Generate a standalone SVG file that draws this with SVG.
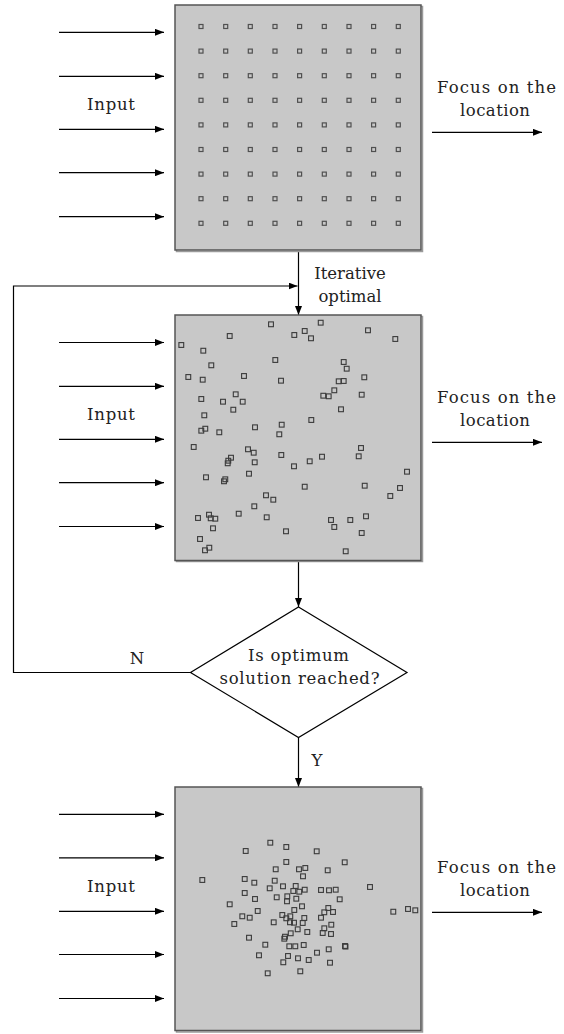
<svg xmlns="http://www.w3.org/2000/svg" xmlns:xlink="http://www.w3.org/1999/xlink" width="564" height="1034" viewBox="0 0 564 1034">
<style>
.box{fill:#c8c8c8;stroke:#555;stroke-width:1.5}
.shadow{fill:none;stroke:#9a9a9a;stroke-width:1.5}
.sq1{fill:none;stroke:#505050;stroke-width:1.2}
.sq{fill:none;stroke:#3a3a3a;stroke-width:1.1}
.ln{fill:none;stroke:#000;stroke-width:1.2}
.dia{fill:#fff;stroke:#000;stroke-width:1.2}
.t{font-family:"DejaVu Serif","Liberation Serif",serif;font-size:16.5px;fill:#222;text-anchor:middle}
</style>
<defs>
<marker id="ah" markerUnits="userSpaceOnUse" markerWidth="9" markerHeight="7" refX="9" refY="3.5" orient="auto">
<path d="M0,0 L9,3.5 L0,7 z" fill="#000"/>
</marker>
<rect id="s1" class="sq1" x="-2" y="-2" width="4" height="4"/>
<rect id="s" class="sq" x="-2.4" y="-2.4" width="4.8" height="4.8"/>
</defs>

<g id="connectors">
<path class="ln" marker-end="url(#ah)" d="M59,32.3H164"/>
<path class="ln" marker-end="url(#ah)" d="M59,76.3H164"/>
<path class="ln" marker-end="url(#ah)" d="M59,129.3H164"/>
<path class="ln" marker-end="url(#ah)" d="M59,172.7H164"/>
<path class="ln" marker-end="url(#ah)" d="M59,216.7H164"/>
<path class="ln" marker-end="url(#ah)" d="M59,342.5H164"/>
<path class="ln" marker-end="url(#ah)" d="M59,386.3H164"/>
<path class="ln" marker-end="url(#ah)" d="M59,439.3H164"/>
<path class="ln" marker-end="url(#ah)" d="M59,482.7H164"/>
<path class="ln" marker-end="url(#ah)" d="M59,526.5H164"/>
<path class="ln" marker-end="url(#ah)" d="M59,814.3H164"/>
<path class="ln" marker-end="url(#ah)" d="M59,857.8H164"/>
<path class="ln" marker-end="url(#ah)" d="M59,911.3H164"/>
<path class="ln" marker-end="url(#ah)" d="M59,954.5H164"/>
<path class="ln" marker-end="url(#ah)" d="M59,998.5H164"/>
<path class="ln" marker-end="url(#ah)" d="M432,132.3H542"/>
<path class="ln" marker-end="url(#ah)" d="M432,442.3H542"/>
<path class="ln" marker-end="url(#ah)" d="M432,912.3H542"/>
<path class="ln" marker-end="url(#ah)" d="M298.5,251V315"/>
<path class="ln" marker-end="url(#ah)" d="M298.5,561.5V607"/>
<path class="ln" marker-end="url(#ah)" d="M298.5,737.5V787"/>
<path class="ln" marker-end="url(#ah)" d="M190.5,672.5H13.5V286H297.5"/>
</g>

<g id="node-grid">
<rect class="shadow" x="176.5" y="6.5" width="246" height="245"/>
<rect class="box" x="175" y="5" width="246" height="245"/>
<g id="grid-points">
<use href="#s1" x="201" y="26.5"/><use href="#s1" x="225.7" y="26.5"/><use href="#s1" x="250.3" y="26.5"/><use href="#s1" x="275" y="26.5"/><use href="#s1" x="299.6" y="26.5"/><use href="#s1" x="324.3" y="26.5"/><use href="#s1" x="349" y="26.5"/><use href="#s1" x="373.6" y="26.5"/><use href="#s1" x="398.3" y="26.5"/>
<use href="#s1" x="201" y="51.1"/><use href="#s1" x="225.7" y="51.1"/><use href="#s1" x="250.3" y="51.1"/><use href="#s1" x="275" y="51.1"/><use href="#s1" x="299.6" y="51.1"/><use href="#s1" x="324.3" y="51.1"/><use href="#s1" x="349" y="51.1"/><use href="#s1" x="373.6" y="51.1"/><use href="#s1" x="398.3" y="51.1"/>
<use href="#s1" x="201" y="75.7"/><use href="#s1" x="225.7" y="75.7"/><use href="#s1" x="250.3" y="75.7"/><use href="#s1" x="275" y="75.7"/><use href="#s1" x="299.6" y="75.7"/><use href="#s1" x="324.3" y="75.7"/><use href="#s1" x="349" y="75.7"/><use href="#s1" x="373.6" y="75.7"/><use href="#s1" x="398.3" y="75.7"/>
<use href="#s1" x="201" y="100.3"/><use href="#s1" x="225.7" y="100.3"/><use href="#s1" x="250.3" y="100.3"/><use href="#s1" x="275" y="100.3"/><use href="#s1" x="299.6" y="100.3"/><use href="#s1" x="324.3" y="100.3"/><use href="#s1" x="349" y="100.3"/><use href="#s1" x="373.6" y="100.3"/><use href="#s1" x="398.3" y="100.3"/>
<use href="#s1" x="201" y="124.9"/><use href="#s1" x="225.7" y="124.9"/><use href="#s1" x="250.3" y="124.9"/><use href="#s1" x="275" y="124.9"/><use href="#s1" x="299.6" y="124.9"/><use href="#s1" x="324.3" y="124.9"/><use href="#s1" x="349" y="124.9"/><use href="#s1" x="373.6" y="124.9"/><use href="#s1" x="398.3" y="124.9"/>
<use href="#s1" x="201" y="149.5"/><use href="#s1" x="225.7" y="149.5"/><use href="#s1" x="250.3" y="149.5"/><use href="#s1" x="275" y="149.5"/><use href="#s1" x="299.6" y="149.5"/><use href="#s1" x="324.3" y="149.5"/><use href="#s1" x="349" y="149.5"/><use href="#s1" x="373.6" y="149.5"/><use href="#s1" x="398.3" y="149.5"/>
<use href="#s1" x="201" y="174.1"/><use href="#s1" x="225.7" y="174.1"/><use href="#s1" x="250.3" y="174.1"/><use href="#s1" x="275" y="174.1"/><use href="#s1" x="299.6" y="174.1"/><use href="#s1" x="324.3" y="174.1"/><use href="#s1" x="349" y="174.1"/><use href="#s1" x="373.6" y="174.1"/><use href="#s1" x="398.3" y="174.1"/>
<use href="#s1" x="201" y="198.7"/><use href="#s1" x="225.7" y="198.7"/><use href="#s1" x="250.3" y="198.7"/><use href="#s1" x="275" y="198.7"/><use href="#s1" x="299.6" y="198.7"/><use href="#s1" x="324.3" y="198.7"/><use href="#s1" x="349" y="198.7"/><use href="#s1" x="373.6" y="198.7"/><use href="#s1" x="398.3" y="198.7"/>
<use href="#s1" x="201" y="223.3"/><use href="#s1" x="225.7" y="223.3"/><use href="#s1" x="250.3" y="223.3"/><use href="#s1" x="275" y="223.3"/><use href="#s1" x="299.6" y="223.3"/><use href="#s1" x="324.3" y="223.3"/><use href="#s1" x="349" y="223.3"/><use href="#s1" x="373.6" y="223.3"/><use href="#s1" x="398.3" y="223.3"/>
</g>
</g>

<g id="node-scatter">
<rect class="shadow" x="176.5" y="316.5" width="246" height="245"/>
<rect class="box" x="175" y="315" width="246" height="245.5"/>
<g id="scatter-points">
<use href="#s" x="271" y="324.3"/><use href="#s" x="320.7" y="322.7"/><use href="#s" x="229.7" y="336"/><use href="#s" x="294.3" y="335"/><use href="#s" x="304.7" y="331"/><use href="#s" x="311" y="338.3"/><use href="#s" x="368" y="330.3"/><use href="#s" x="395.3" y="339"/><use href="#s" x="181.3" y="345"/><use href="#s" x="203.3" y="350.7"/>
<use href="#s" x="275.3" y="360"/><use href="#s" x="343.7" y="362"/><use href="#s" x="346.7" y="368.7"/><use href="#s" x="211.3" y="365.3"/><use href="#s" x="188.3" y="377"/><use href="#s" x="202.7" y="379.7"/><use href="#s" x="244" y="376"/><use href="#s" x="281" y="380.7"/><use href="#s" x="338.7" y="381.3"/><use href="#s" x="343.7" y="381"/>
<use href="#s" x="364.3" y="377.3"/><use href="#s" x="235.7" y="394.3"/><use href="#s" x="201.3" y="399"/><use href="#s" x="223" y="401.7"/><use href="#s" x="242.7" y="401.7"/><use href="#s" x="323.3" y="395.7"/><use href="#s" x="328.7" y="396.3"/><use href="#s" x="334.3" y="390.3"/><use href="#s" x="361.7" y="394.7"/><use href="#s" x="233.3" y="409.7"/>
<use href="#s" x="341" y="409.3"/><use href="#s" x="204.3" y="415.3"/><use href="#s" x="311.3" y="420"/><use href="#s" x="201.3" y="430.7"/><use href="#s" x="205.3" y="428.7"/><use href="#s" x="219.3" y="432.3"/><use href="#s" x="255" y="427.3"/><use href="#s" x="281.7" y="424.7"/><use href="#s" x="279.3" y="434.3"/><use href="#s" x="193.7" y="447"/>
<use href="#s" x="248" y="449.3"/><use href="#s" x="253.7" y="452.7"/><use href="#s" x="231" y="457.7"/><use href="#s" x="228.3" y="460.7"/><use href="#s" x="227.7" y="463.3"/><use href="#s" x="254.7" y="462.3"/><use href="#s" x="281.3" y="455"/><use href="#s" x="294" y="466.3"/><use href="#s" x="309.7" y="461.3"/><use href="#s" x="322" y="456.7"/>
<use href="#s" x="361" y="448"/><use href="#s" x="358.7" y="456.3"/><use href="#s" x="407" y="471.7"/><use href="#s" x="206" y="477.3"/><use href="#s" x="225.3" y="479.3"/><use href="#s" x="224" y="481.3"/><use href="#s" x="249" y="473.7"/><use href="#s" x="304.7" y="486.7"/><use href="#s" x="364.7" y="485.7"/><use href="#s" x="400" y="488"/>
<use href="#s" x="390.3" y="496"/><use href="#s" x="266" y="495.3"/><use href="#s" x="273.3" y="499.7"/><use href="#s" x="254.3" y="506.3"/><use href="#s" x="238.7" y="513.7"/><use href="#s" x="198" y="518"/><use href="#s" x="209" y="514.7"/><use href="#s" x="210.7" y="518.3"/><use href="#s" x="215.3" y="518.7"/><use href="#s" x="266.7" y="517.3"/>
<use href="#s" x="213" y="528.3"/><use href="#s" x="331" y="520"/><use href="#s" x="334.3" y="527"/><use href="#s" x="350.3" y="520"/><use href="#s" x="366" y="516.3"/><use href="#s" x="361.7" y="533"/><use href="#s" x="286" y="531.3"/><use href="#s" x="200" y="539"/><use href="#s" x="209.3" y="547.7"/><use href="#s" x="205" y="550.3"/>
<use href="#s" x="345.7" y="551.3"/>
</g>
</g>

<g id="node-converged">
<rect class="shadow" x="176.5" y="788.5" width="246" height="243.5"/>
<rect class="box" x="175" y="787" width="246" height="243.5"/>
<g id="converged-points">
<use href="#s" x="270.3" y="842.7"/><use href="#s" x="286.3" y="847"/><use href="#s" x="245.7" y="851"/><use href="#s" x="316.7" y="851.3"/><use href="#s" x="286.3" y="862"/><use href="#s" x="344.7" y="862.3"/><use href="#s" x="275.7" y="869.3"/><use href="#s" x="299" y="869.3"/><use href="#s" x="305.3" y="868"/><use href="#s" x="327.7" y="870.3"/>
<use href="#s" x="303" y="876.3"/><use href="#s" x="202.3" y="880"/><use href="#s" x="244.7" y="879"/><use href="#s" x="254.3" y="882.7"/><use href="#s" x="274.7" y="880.7"/><use href="#s" x="269.7" y="888.3"/><use href="#s" x="283" y="886.3"/><use href="#s" x="295.7" y="886"/><use href="#s" x="293.3" y="891"/><use href="#s" x="299.3" y="891.7"/>
<use href="#s" x="304.7" y="889.7"/><use href="#s" x="321" y="890"/><use href="#s" x="329" y="890.3"/><use href="#s" x="335.7" y="889.7"/><use href="#s" x="370" y="887"/><use href="#s" x="244.7" y="893"/><use href="#s" x="255" y="899"/><use href="#s" x="276.7" y="897.3"/><use href="#s" x="287.3" y="896.3"/><use href="#s" x="287" y="901.3"/>
<use href="#s" x="296.3" y="898.7"/><use href="#s" x="339.7" y="899.3"/><use href="#s" x="229.7" y="904.3"/><use href="#s" x="302" y="906.3"/><use href="#s" x="328.3" y="908"/><use href="#s" x="324.3" y="912.3"/><use href="#s" x="333" y="912"/><use href="#s" x="257.7" y="911"/><use href="#s" x="294.3" y="910"/><use href="#s" x="242.3" y="916.3"/>
<use href="#s" x="249.7" y="917.7"/><use href="#s" x="234.3" y="924"/><use href="#s" x="273.7" y="922.3"/><use href="#s" x="282.3" y="915"/><use href="#s" x="286.3" y="918.3"/><use href="#s" x="290.3" y="916.3"/><use href="#s" x="290" y="922.3"/><use href="#s" x="294" y="922.7"/><use href="#s" x="304.3" y="918"/><use href="#s" x="302.7" y="923"/>
<use href="#s" x="321" y="917.7"/><use href="#s" x="331.3" y="924.7"/><use href="#s" x="297.7" y="929.3"/><use href="#s" x="290.7" y="933.3"/><use href="#s" x="307.3" y="932"/><use href="#s" x="324.3" y="928.3"/><use href="#s" x="322.7" y="933"/><use href="#s" x="331" y="934"/><use href="#s" x="285" y="936.7"/><use href="#s" x="284.3" y="938.7"/>
<use href="#s" x="249" y="937.7"/><use href="#s" x="265.3" y="944.7"/><use href="#s" x="289.3" y="946.3"/><use href="#s" x="295.3" y="946.3"/><use href="#s" x="303.7" y="945"/><use href="#s" x="317" y="952.7"/><use href="#s" x="328.7" y="949.3"/><use href="#s" x="345" y="946"/><use href="#s" x="345.5" y="946.6"/><use href="#s" x="259" y="955.3"/>
<use href="#s" x="288" y="956"/><use href="#s" x="298" y="958.3"/><use href="#s" x="283.3" y="962.3"/><use href="#s" x="308.7" y="960"/><use href="#s" x="330" y="962.7"/><use href="#s" x="267.7" y="973.3"/><use href="#s" x="300.3" y="971.3"/><use href="#s" x="393.3" y="911.7"/><use href="#s" x="408" y="909"/><use href="#s" x="415.3" y="910.3"/>
</g>
</g>

<g id="node-decision">
<polygon class="dia" points="298.5,607 407,672.5 298.5,737.5 190.5,672.5"/>
<text class="t" x="298.5" y="661" textLength="101" lengthAdjust="spacing">Is optimum</text>
<text class="t" x="299.5" y="684" textLength="160" lengthAdjust="spacing">solution reached?</text>
</g>

<g id="labels">
<text class="t" x="111" y="109.5" textLength="48" lengthAdjust="spacing">Input</text>
<text class="t" x="111" y="419.5" textLength="48" lengthAdjust="spacing">Input</text>
<text class="t" x="111" y="891.5" textLength="48" lengthAdjust="spacing">Input</text>
<text class="t" x="496.5" y="92.5" textLength="119" lengthAdjust="spacing">Focus on the</text>
<text class="t" x="495" y="115.5" textLength="70" lengthAdjust="spacing">location</text>
<text class="t" x="496.5" y="402.5" textLength="119" lengthAdjust="spacing">Focus on the</text>
<text class="t" x="495" y="425.5" textLength="70" lengthAdjust="spacing">location</text>
<text class="t" x="496.5" y="872.5" textLength="119" lengthAdjust="spacing">Focus on the</text>
<text class="t" x="495" y="895.5" textLength="70" lengthAdjust="spacing">location</text>
<text class="t" x="350" y="278.5">Iterative</text>
<text class="t" x="350" y="301.5">optimal</text>
<text class="t" x="137" y="663.5">N</text>
<text class="t" x="317" y="766">Y</text>
</g>
</svg>
